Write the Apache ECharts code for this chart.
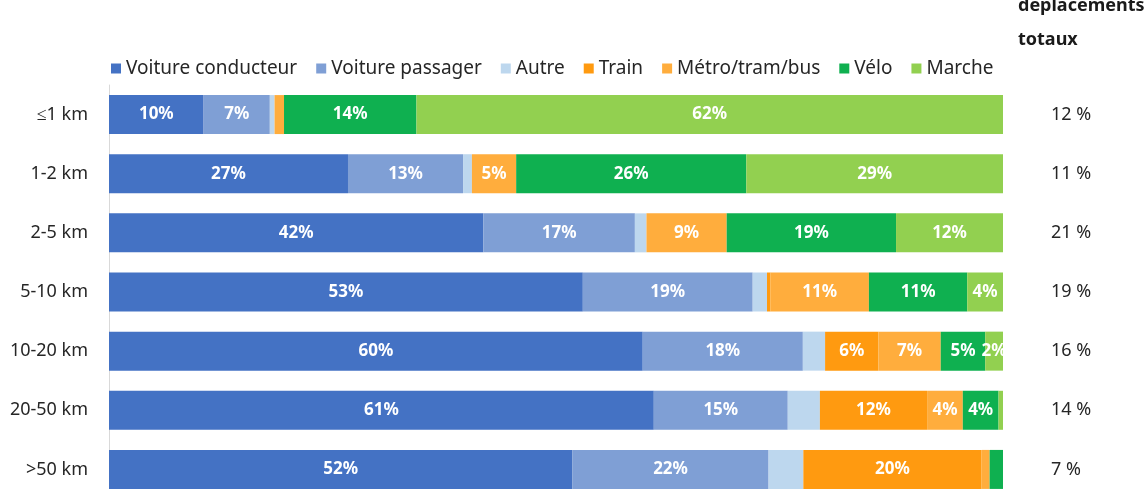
<!DOCTYPE html>
<html>
<head>
<meta charset="utf-8">
<script src="https://cdn.jsdelivr.net/npm/echarts@6/dist/echarts.min.js"></script>
<style>
  html, body { margin: 0; padding: 0; background: #fff; }
  #chart { width: 1148px; height: 489px; }
</style>
</head>
<body>
<div id="chart"></div>
<script>
// distance classes, top to bottom
var categories = ['≤1 km', '1-2 km', '2-5 km', '5-10 km', '10-20 km', '20-50 km', '>50 km'];
// share of all trips per class
var totals = [12, 11, 21, 19, 16, 14, 7];

// mode shares (%) per class, as printed /
var conducteur = [10, 27, 42, 53, 60, 61, 52];
var passager   = [7, 13, 17, 19, 18, 15, 22];
var autre      = [0.5, 1, 1.3, 1.6, 2.5, 3.6, 3.9];
var train      = [0, 0, 0, 0.4, 6, 12, 20];
var metro      = [1, 5, 9, 11, 7, 4, 0.9];
var velo       = [14, 26, 19, 11, 5, 4, 1.5];
var marche     = [62, 29, 12, 4, 2, 0.5, 0];

var modes = [
    { name: 'Voiture conducteur', values: conducteur, color: '#4472C4', labels: true },
    { name: 'Voiture passager', values: passager, color: '#7F9FD5', labels: true },
    { name: 'Autre', values: autre, color: '#BDD7EE', labels: false },
    { name: 'Train', values: train, color: '#FF9A10', labels: true },
    { name: 'Métro/tram/bus', values: metro, color: '#FFAD3D', labels: true },
    { name: 'Vélo', values: velo, color: '#0FB050', labels: true },
    { name: 'Marche', values: marche, color: '#92D050', labels: true }
];

// 100% stacked: each row is scaled to its own sum
var rowSum = categories.map(function (c, i) {
    var s = 0;
    modes.forEach(function (m) { s += m.values[i]; });
    return s;
});

var font = 'Noto Sans';

var series = modes.map(function (m) {
    return {
        name: m.name,
        type: 'bar',
        stack: 'total',
        barWidth: 39,
        itemStyle: { color: m.color },
        emphasis: { disabled: true },
        data: m.values.map(function (v, i) {
            return {
                value: v / rowSum[i] * 100,
                raw: v,
                label: { show: m.labels && v >= 2 }
            };
        }),
        label: {
            position: 'inside',
            color: '#fff',
            fontFamily: font,
            fontWeight: 'bold',
            fontSize: 17,
            formatter: function (p) { return Math.round(p.data.raw) + '%'; }
        }
    };
});

var chart = echarts.init(document.getElementById('chart'));
chart.setOption({
    animation: false,
    grid: { left: 109, right: 145, top: 85, bottom: -10, containLabel: false, outerBoundsMode: 'none' },
    legend: {
        top: 54,
        left: 106,
        icon: 'rect',
        itemWidth: 10,
        itemHeight: 10,
        itemGap: 19,
        textStyle: { fontFamily: font, fontSize: 19, color: '#262626' },
        data: modes.map(function (m) { return m.name; })
    },
    graphic: [
        { type: 'text', left: 1018, top: -3, style: { text: 'déplacements', font: 'bold 18px "Noto Sans"', fill: '#1a1a1a' } },
        { type: 'text', left: 1018, top: 31, style: { text: 'totaux', font: 'bold 18px "Noto Sans"', fill: '#1a1a1a' } }
    ],
    xAxis: { type: 'value', min: 0, max: 100, show: false },
    yAxis: [
        {
            type: 'category',
            data: categories,
            inverse: true,
            axisLine: { show: true, lineStyle: { color: '#d9d9d9' } },
            axisTick: { show: false },
            axisLabel: { fontFamily: font, fontSize: 18, color: '#262626', margin: 21 }
        },
        {
            type: 'category',
            data: categories,
            inverse: true,
            position: 'right',
            axisLine: { show: false },
            axisTick: { show: false },
            axisLabel: {
                fontFamily: font, fontSize: 18, color: '#262626', margin: 48,
                formatter: function (v, i) { return totals[i] + ' %'; }
            }
        }
    ],
    series: series
});
</script>
</body>
</html>
